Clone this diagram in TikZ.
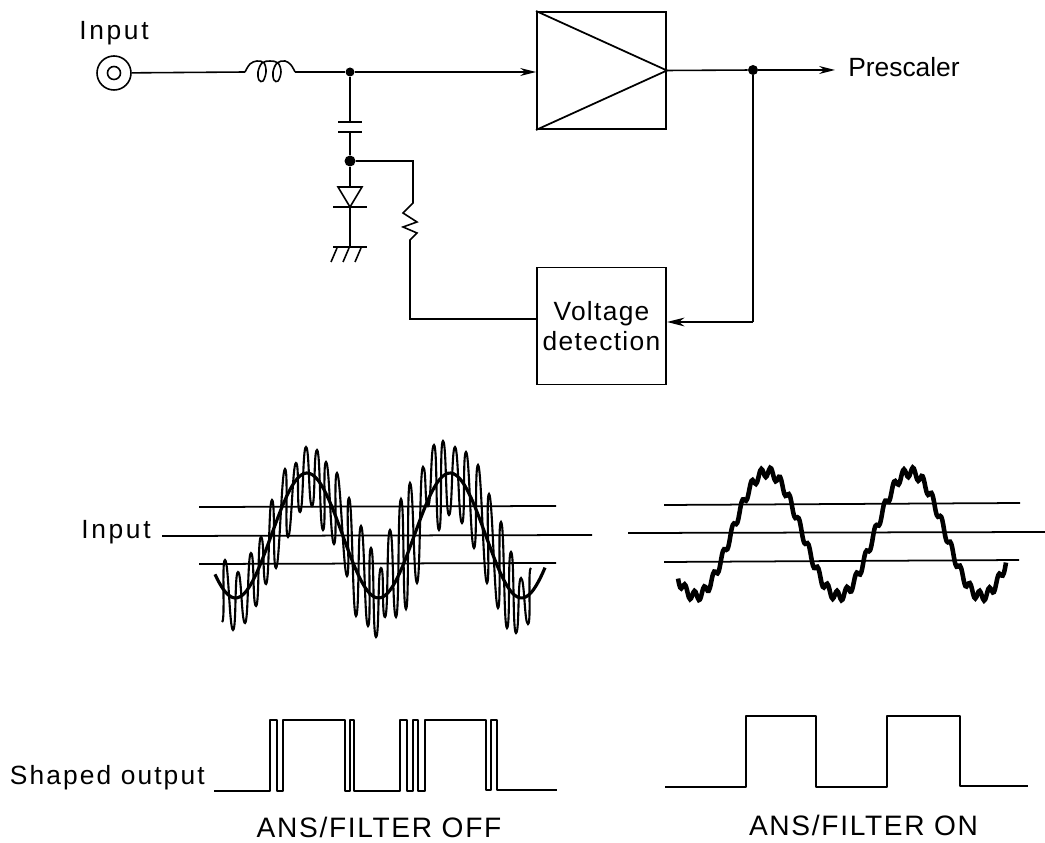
\documentclass[tikz,border=0pt]{standalone}
\usepackage{fontspec}
\setmainfont{Liberation Sans}
\usetikzlibrary{arrows.meta}

\begin{document}
\begin{tikzpicture}[
    x=0.2mm, y=-0.2mm,
    label/.style={inner sep=0pt, font=\fontsize{15}{17}\selectfont\addfontfeature{LetterSpace=10}},
    caption/.style={inner sep=0pt, font=\fontsize{16}{18}\selectfont\addfontfeature{LetterSpace=6}},
    block/.style={rectangle, draw, line width=1.1pt, minimum width=25.8mm, minimum height=23.4mm, inner sep=0pt, align=center, font=\fontsize{15}{17}\selectfont\addfontfeature{LetterSpace=5}},
    wire/.style={line width=0.9pt},
    tip/.style={-{Stealth[length=9pt, width=4.5pt]}},
    dot/.style={circle, fill, inner sep=0pt, minimum size=2.2mm},
    level/.style={line width=1pt},
    heavy/.style={line width=1.8pt},
    pulse/.style={line width=1.1pt, line join=round}
]
\useasboundingbox (0,0) rectangle (1045,843);

% Input side
\node[label] (inlabel) at (114,33) {Input};
\node[circle, draw, wire, minimum size=6.8mm, inner sep=0pt] (socket) at (114,73) {};
\node[circle, draw, wire, minimum size=2.6mm, inner sep=0pt] (socketcore) at (114,73) {};
\coordinate (coilin) at (245,72);
\coordinate (coilout) at (295,72);
\node[dot, minimum size=1.8mm] (split) at (350,72) {};

% Blocks
\node[block] (amp) at (601.5,70.5) {};
\node[block] (detect) at (601.5,326) {Voltage\\detection};
\draw[line width=1pt] (amp.north west) -- (amp.east) -- (amp.south west);
\node[dot, minimum size=2mm] (tap) at (753,70) {};
\node[label, anchor=west, font=\fontsize{15}{17}\selectfont] (prescaler) at (848,67) {Prescaler};
\coordinate (prescalertip) at (835,70);
\coordinate (detectin) at (667,322);
\coordinate (bend) at (753,322);

% Connections
\draw[wire] (socket) -- (coilin);
\draw[wire] plot[smooth, tension=0.6] coordinates {(245,72) (250,64) (257,61) (264,63) (266,72) (263,81) (259,80) (258,72) (262,63) (270,61) (278,63) (281,72) (278,81) (274,80) (273,72) (277,63) (285,61) (291,65) (295,72)};
\draw[wire] (coilout) -- (split);
\draw[wire, tip] (split) -- (split -| amp.west);
\draw[wire] (amp.east) -- (tap);
\draw[wire, tip] (tap) -- (prescalertip);
\draw[wire] (tap) -- (bend);
\draw[wire, -{Stealth[length=10pt, width=5pt]}] (bend) -- (detectin);

% Capacitor, diode, ground
\coordinate (capup) at (350,122);
\coordinate (capdown) at (350,132);
\node[dot] (node) at (350,161) {};
\coordinate (diodetop) at (350,187);
\coordinate (diodetip) at (350,207);
\coordinate (ground) at (350,247);
\draw[wire] (split) -- (capup);
\draw[line width=1.3pt] (338,122) -- (362,122);
\draw[line width=1.1pt] (338,132) -- (362,132);
\draw[wire] (capdown) -- (node);
\draw[wire] (node) -- (diodetop);
\draw[wire] (338,187) -- (362,187) -- (diodetip) -- cycle;
\draw[line width=1.1pt] (333,207) -- (367,207);
\draw[wire] (diodetip) -- (ground);
\draw[line width=1.1pt] (333,247) -- (367,247);
\foreach \gx in {337,349,361} {
    \draw[wire] (\gx,248) -- (\gx-6,262);
}

% Resistor branch
\coordinate (rtop) at (413,161);
\coordinate (rup) at (413,203);
\coordinate (rdown) at (410,240);
\coordinate (rleft) at (410,319);
\draw[wire] (node) -- (rtop) -- (rup) -- (403,213) -- (417,222) -- (403,227) -- (417,233) -- (rdown) -- (rleft) -- (rleft -| detect.west);

% Left waveform
\node[label] (inputa) at (116,532) {Input};
\draw[level] (199,507) -- (556,506);
\draw[level] (162,536) -- (592,535);
\draw[level] (199,564) -- (556,563);
\draw[heavy] plot[domain=215:545, samples=120, smooth] (\x, {535.5-62.5*cos(2.517*(\x-307))});
\draw[line width=1.2pt] (222,622)
    \foreach \xa/\ya [remember=\xa as \xp (initially 222), remember=\ya as \yp (initially 622)] in {
    225/560, 233/630, 238/572, 245/623, 251/553, 256/606, 261/537,
    266/584, 272/500, 276/568, 285/469, 288/537, 296/463, 300/512, 306/447,
    312/506, 317/450, 323/530, 326/462, 334/544, 337/473, 347/576, 349/498,
    356/616, 361/526, 368/626, 371/548, 376/637, 381/568, 385/617, 390/530,
    396/617, 401/499, 406/609, 410/483, 417/583, 423/467, 428/506, 434/445,
    439/530, 443/441, 449/515, 455/447, 462/523, 466/452, 474/548, 478/465,
    487/583, 489/494, 498/608, 501/522, 507/628, 511/552, 516/633, 521/578,
    528/624, 531/568} { .. controls (\xp+3.5,\yp) and (\xa-3.5,\ya) .. (\xa,\ya) };

% Right waveform
\draw[level] (664,505) -- (1020,503);
\draw[level] (628,533) -- (1045,532);
\draw[level] (664,562) -- (1019,560);
\draw[line width=2.6pt] plot[domain=678:1006, samples=300, smooth] (\x, {534-62*cos(2.517*(\x-767))+5*sin(37.9*(\x-678))});

% Shaped output
\node[label, anchor=east, font=\fontsize{15}{17}\selectfont\addfontfeature{LetterSpace=8}] (shaped) at (205,778) {Shaped output};
\coordinate (outastart) at (214,791);
\coordinate (outaend) at (557,790);
\draw[pulse] (outastart) -- (270,791) -- (270,720) -- (277,720) -- (277,791) -- (283,791) -- (283,720)
    -- (345,720) -- (345,791) -- (350,791) -- (350,720) -- (354,720) -- (354,791) -- (400,791) -- (400,720)
    -- (407,720) -- (407,791) -- (413,791) -- (413,720) -- (418,720) -- (418,791) -- (425,791) -- (425,720)
    -- (486,720) -- (486,790) -- (491,790) -- (491,720) -- (497,720) -- (497,790) -- (outaend);
\coordinate (outbstart) at (665,787);
\coordinate (outbend) at (1028,786);
\draw[pulse, line width=1.5pt] (outbstart) -- (746,787) -- (746,716) -- (816,716) -- (816,787) -- (887,787) -- (887,716) -- (960,716) -- (960,786) -- (outbend);

% Captions
\node[caption] (captionoff) at (379,827) {ANS/FILTER OFF};
\node[caption] (captionon) at (863.5,825) {ANS/FILTER ON};

\end{tikzpicture}
\end{document}
